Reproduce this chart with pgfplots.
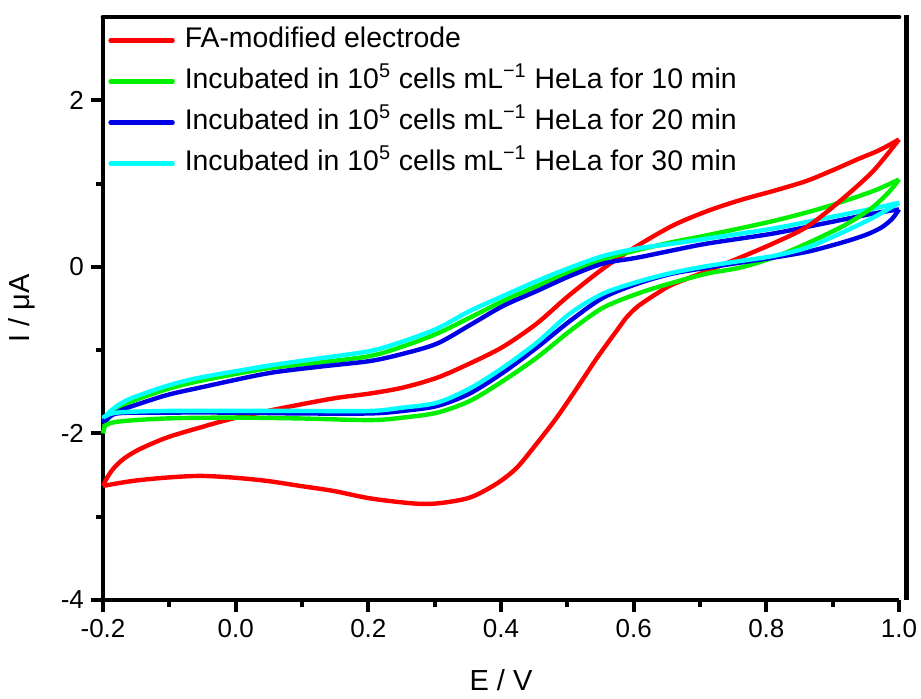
\documentclass[border=0pt]{standalone}
\usepackage{fontspec}
\setmainfont{Liberation Sans}
\usepackage{pgfplots}
\usepackage{pgfplotstable}
\pgfplotsset{compat=1.18}

% red: anodic (A) and cathodic (B) branches
\pgfplotstableread{
E I
-0.200 -2.63
-0.193 -2.52
-0.183 -2.41
-0.168 -2.30
-0.145 -2.19
-0.104 -2.05
-0.054 -1.93
-0.004 -1.82
0.067 -1.70
0.147 -1.58
0.203 -1.52
0.252 -1.45
0.304 -1.33
0.353 -1.16
0.403 -0.96
0.454 -0.68
0.500 -0.36
0.554 -0.02
0.605 0.25
0.660 0.50
0.711 0.67
0.760 0.80
0.810 0.91
0.860 1.03
0.900 1.16
0.937 1.29
0.970 1.40
1.000 1.53
}\redA
\pgfplotstableread{
E I
1.000 1.53
0.961 1.15
0.911 0.79
0.861 0.48
0.810 0.28
0.760 0.11
0.711 -0.05
0.659 -0.21
0.635 -0.32
0.607 -0.47
0.590 -0.60
0.575 -0.76
0.545 -1.09
0.515 -1.45
0.484 -1.81
0.454 -2.12
0.424 -2.41
0.394 -2.60
0.353 -2.77
0.304 -2.84
0.267 -2.84
0.203 -2.78
0.147 -2.69
0.097 -2.63
0.047 -2.57
-0.004 -2.53
-0.054 -2.51
-0.104 -2.53
-0.155 -2.57
-0.200 -2.63
}\redB
\pgfplotstableread{
E I
-0.200 -2.00
-0.195 -1.86
-0.185 -1.76
-0.170 -1.68
-0.155 -1.61
-0.104 -1.47
-0.054 -1.37
0.047 -1.22
0.125 -1.15
0.203 -1.07
0.254 -0.95
0.304 -0.80
0.353 -0.61
0.403 -0.41
0.454 -0.23
0.504 -0.06
0.554 0.09
0.605 0.20
0.660 0.30
0.711 0.38
0.810 0.55
0.886 0.71
0.961 0.91
1.000 1.05
}\greenA
\pgfplotstableread{
E I
1.000 1.05
0.985 0.90
0.961 0.72
0.935 0.58
0.911 0.47
0.861 0.28
0.810 0.11
0.760 -0.01
0.711 -0.08
0.659 -0.19
0.610 -0.31
0.554 -0.49
0.504 -0.77
0.454 -1.09
0.403 -1.37
0.353 -1.61
0.304 -1.75
0.252 -1.81
0.203 -1.84
0.097 -1.82
-0.004 -1.81
-0.104 -1.82
-0.179 -1.86
-0.200 -1.92
}\greenB
\pgfplotstableread{
E I
-0.200 -1.88
-0.190 -1.80
-0.175 -1.73
-0.155 -1.67
-0.104 -1.54
-0.054 -1.45
0.047 -1.28
0.125 -1.20
0.203 -1.13
0.254 -1.04
0.304 -0.92
0.353 -0.70
0.403 -0.47
0.454 -0.29
0.504 -0.11
0.554 0.04
0.605 0.11
0.660 0.20
0.711 0.28
0.810 0.40
0.886 0.52
0.961 0.64
1.000 0.69
}\blueA
\pgfplotstableread{
E I
1.000 0.69
0.990 0.58
0.975 0.48
0.955 0.40
0.930 0.33
0.900 0.26
0.861 0.18
0.810 0.11
0.760 0.05
0.711 -0.01
0.659 -0.08
0.610 -0.19
0.554 -0.37
0.504 -0.65
0.454 -0.97
0.403 -1.27
0.353 -1.52
0.304 -1.67
0.252 -1.73
0.203 -1.76
0.097 -1.76
-0.004 -1.75
-0.104 -1.75
-0.179 -1.76
-0.200 -1.86
}\blueB
\pgfplotstableread{
E I
-0.200 -1.83
-0.190 -1.74
-0.175 -1.65
-0.155 -1.57
-0.104 -1.43
-0.054 -1.33
0.047 -1.19
0.125 -1.10
0.203 -1.01
0.254 -0.89
0.304 -0.74
0.353 -0.53
0.403 -0.35
0.454 -0.17
0.504 -0.01
0.554 0.13
0.605 0.22
0.660 0.28
0.711 0.34
0.810 0.46
0.886 0.58
0.961 0.70
1.000 0.77
}\cyanA
\pgfplotstableread{
E I
1.000 0.77
0.961 0.59
0.911 0.40
0.861 0.23
0.810 0.13
0.760 0.07
0.711 0.01
0.659 -0.07
0.610 -0.17
0.554 -0.32
0.504 -0.56
0.454 -0.91
0.403 -1.21
0.353 -1.46
0.304 -1.63
0.252 -1.69
0.203 -1.73
0.097 -1.73
-0.004 -1.73
-0.104 -1.73
-0.179 -1.75
-0.200 -1.81
}\cyanB

\definecolor{cred}{RGB}{255,0,0}
\definecolor{cgreen}{RGB}{0,240,0}
\definecolor{cblue}{RGB}{0,0,230}
\definecolor{ccyan}{RGB}{0,255,255}

\begin{document}
\begin{tikzpicture}
\begin{axis}[
  scale only axis, width=398pt, height=291.5pt,
  xmin=-0.2, xmax=1.0, ymin=-4, ymax=3,
  clip=false,
  axis x line*=bottom, axis y line*=left,
  axis line style={line width=2.4pt, black},
  xtick={-0.2,0,0.2,0.4,0.6,0.8,1.0},
  xticklabels={-0.2,0.0,0.2,0.4,0.6,0.8,1.0},
  minor xtick={-0.1,0.1,0.3,0.5,0.7,0.9},
  ytick={-4,-2,0,2},
  yticklabels={-4,-2,0,2},
  minor ytick={-3,-1,1},
  tick align=outside,
  major tick length=6pt, minor tick length=3.5pt,
  every tick/.style={line width=2pt, black},
  tick label style={font=\fontsize{13}{15}\selectfont},
  xlabel={E / V}, ylabel={I / μA},
  label style={font=\fontsize{14.5}{17}\selectfont},
  xlabel style={at={([yshift=-40pt]axis description cs:0.5,0)}, anchor=center},
  ylabel style={at={([xshift=-40.5pt]axis description cs:0,0.5)}, anchor=center},
  legend style={draw=none, fill=none, at={([xshift=-0.5pt,yshift=0pt]axis description cs:0,1)}, anchor=north west,
    font=\fontsize{14.2}{17}\selectfont, row sep=1.5pt, column sep=3pt,
    nodes={text height=11pt, text depth=4pt}},
  legend cell align=left,
  legend image code/.code={\draw[#1, line width=2.2pt, line cap=round] (0pt,0pt) -- (31pt,0pt);},
  every axis plot/.append style={line width=2.2pt},
]
\addplot[cred, smooth] table[x=E,y=I] {\redA};
\addlegendentry{FA-modified electrode}
\addplot[cgreen, smooth] table[x=E,y=I] {\greenA};
\addlegendentry{Incubated in 10\textsuperscript{5} cells mL\textsuperscript{−1} HeLa for 10 min}
\addplot[cblue, smooth] table[x=E,y=I] {\blueA};
\addlegendentry{Incubated in 10\textsuperscript{5} cells mL\textsuperscript{−1} HeLa for 20 min}
\addplot[ccyan, smooth] table[x=E,y=I] {\cyanA};
\addlegendentry{Incubated in 10\textsuperscript{5} cells mL\textsuperscript{−1} HeLa for 30 min}
\addplot[cred, smooth, forget plot] table[x=E,y=I] {\redB};
\addplot[cgreen, smooth, forget plot] table[x=E,y=I] {\greenB};
\addplot[cblue, smooth, forget plot] table[x=E,y=I] {\blueB};
\addplot[ccyan, smooth, forget plot] table[x=E,y=I] {\cyanB};
\draw[line width=2.4pt, line cap=round] (axis description cs:0,1) -- (axis description cs:1,1);
\draw[line width=2.4pt] ([xshift=3.8pt,yshift=1pt]axis description cs:1,1) -- ([xshift=3.8pt]axis description cs:1,0);
\coordinate (ll) at (axis description cs:0,0);
\coordinate (ur) at (axis description cs:1,1);
\end{axis}
\pgfresetboundingbox
\path[use as bounding box] ([shift={(-51.5pt,-49pt)}]ll) rectangle ([shift={(11pt,8.5pt)}]ur);
\end{tikzpicture}
\end{document}
